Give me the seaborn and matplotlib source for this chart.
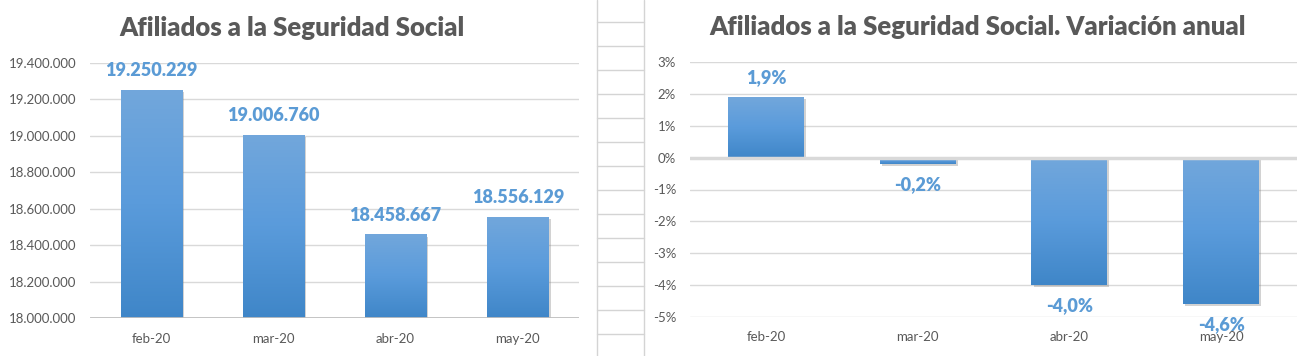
import numpy as np
import matplotlib
matplotlib.use("Agg")
import matplotlib.pyplot as plt
import matplotlib.patheffects as pe
from matplotlib.colors import LinearSegmentedColormap
from matplotlib.lines import Line2D
from matplotlib.ticker import FuncFormatter, MultipleLocator
import seaborn as sns

# ---- data ----
months = ["feb-20", "mar-20", "abr-20", "may-20"]
afiliados = [19250229, 19006760, 18458667, 18556129]
variacion = [1.9, -0.2, -4.0, -4.6]  # percent
title_left = "Afiliados a la Seguridad Social"
title_right = "Afiliados a la Seguridad Social. Variación anual"

sns.set_theme(style="white")
plt.rcParams['font.family'] = ['Lato', 'DejaVu Sans']

W, H = 1303, 356
fig = plt.figure(figsize=(W / 100, H / 100), dpi=100)
fig.patch.set_facecolor("white")

GRID = "#D9D9D9"
TXT = "#595959"
LBL = "#5B9BD5"
BAR = "#5B9BD5"
cmap = LinearSegmentedColormap.from_list("g", ["#72A7DC", "#5A9BDB", "#3F86C8"])


def fx(px):
    return px / W


def fy(py):
    return 1 - py / H


# spreadsheet cells between the two charts
for yy in range(22, 356, 24):
    fig.add_artist(Line2D([fx(597), fx(644)], [fy(yy), fy(yy)], color="#D4D4D4", lw=1))
for xx in (597, 644):
    fig.add_artist(Line2D([fx(xx), fx(xx)], [0, 1], color="#D4D4D4", lw=1))


def gradient_bars(ax):
    ylo, yhi = ax.get_ylim()
    xl = ax.get_xlim()
    grad = np.linspace(0, 1, 256).reshape(-1, 1)
    for p in ax.patches:
        x0, w = p.get_x(), p.get_width()
        y0, h = p.get_y(), p.get_height()
        top, bot = max(y0, y0 + h), min(y0, y0 + h)
        top, bot = min(top, yhi), max(bot, ylo)
        p.set_path_effects([pe.SimplePatchShadow(offset=(1.5, -1.5), shadow_rgbFace="#7f7f7f", alpha=0.35), pe.Normal()])
        im = ax.imshow(grad, cmap=cmap, extent=[x0, x0 + w, bot, top], aspect="auto",
                       origin="upper", zorder=p.get_zorder() + 0.1, interpolation="bilinear")
        im.set_clip_path(p)
    ax.set_xlim(xl)
    ax.set_ylim(ylo, yhi)


def style_axes(ax):
    for s in ax.spines.values():
        s.set_visible(False)
    ax.grid(axis="y", color=GRID, lw=1)
    ax.grid(axis="x", visible=False)
    ax.set_axisbelow(True)
    ax.tick_params(axis="both", length=0, colors=TXT, labelsize=9.5)
    ax.tick_params(axis="y", pad=10)
    ax.tick_params(axis="x", pad=11)
    ax.set_xlabel("")
    ax.set_ylabel("")
    ax.set_facecolor("white")


# ---- left chart ----
axL = fig.add_axes([fx(90), fy(318), fx(579 - 90), (318 - 63) / H])
sns.barplot(x=months, y=afiliados, ax=axL, width=0.5, color=BAR, saturation=1, edgecolor="none")
axL.set_ylim(18000000, 19400000)
axL.yaxis.set_major_locator(MultipleLocator(200000))
axL.yaxis.set_major_formatter(FuncFormatter(lambda v, p: f"{int(round(v)):,}".replace(",", ".")))
style_axes(axL)
axL.axhline(18000000, color="#BFBFBF", lw=2, zorder=5)
gradient_bars(axL)
for i, v in enumerate(afiliados):
    axL.annotate(f"{v:,}".replace(",", "."), (i, v), xytext=(0, 14), textcoords="offset points",
                 ha="center", va="center", color=LBL, fontsize=13, fontweight="heavy", zorder=10)
fig.text(fx(292), fy(28), title_left, ha="center", va="center", fontsize=18.5,
         fontweight="heavy", color=TXT)

# ---- right chart ----
axR = fig.add_axes([fx(690), fy(317), fx(1297 - 690), (317 - 62) / H])
sns.barplot(x=months, y=variacion, ax=axR, width=0.5, color=BAR, saturation=1, edgecolor="none")
axR.set_ylim(-5, 3)
axR.yaxis.set_major_locator(MultipleLocator(1))
axR.yaxis.set_major_formatter(FuncFormatter(lambda v, p: f"{int(round(v))}%"))
style_axes(axR)
axR.tick_params(axis="x", pad=10)
axR.axhline(0, color="#D9D9D9", lw=2.5, zorder=5)
gradient_bars(axR)
for i, v in enumerate(variacion):
    off = 14 if v > 0 else -15
    axR.annotate(f"{v:.1f}%".replace(".", ","), (i, v), xytext=(0, off), textcoords="offset points",
                 ha="center", va="center", color=LBL, fontsize=13, fontweight="heavy", zorder=10)
fig.text(fx(978), fy(27), title_right, ha="center", va="center", fontsize=18.5,
         fontweight="heavy", color=TXT)

fig.savefig("out.png", dpi=100, facecolor="white")
